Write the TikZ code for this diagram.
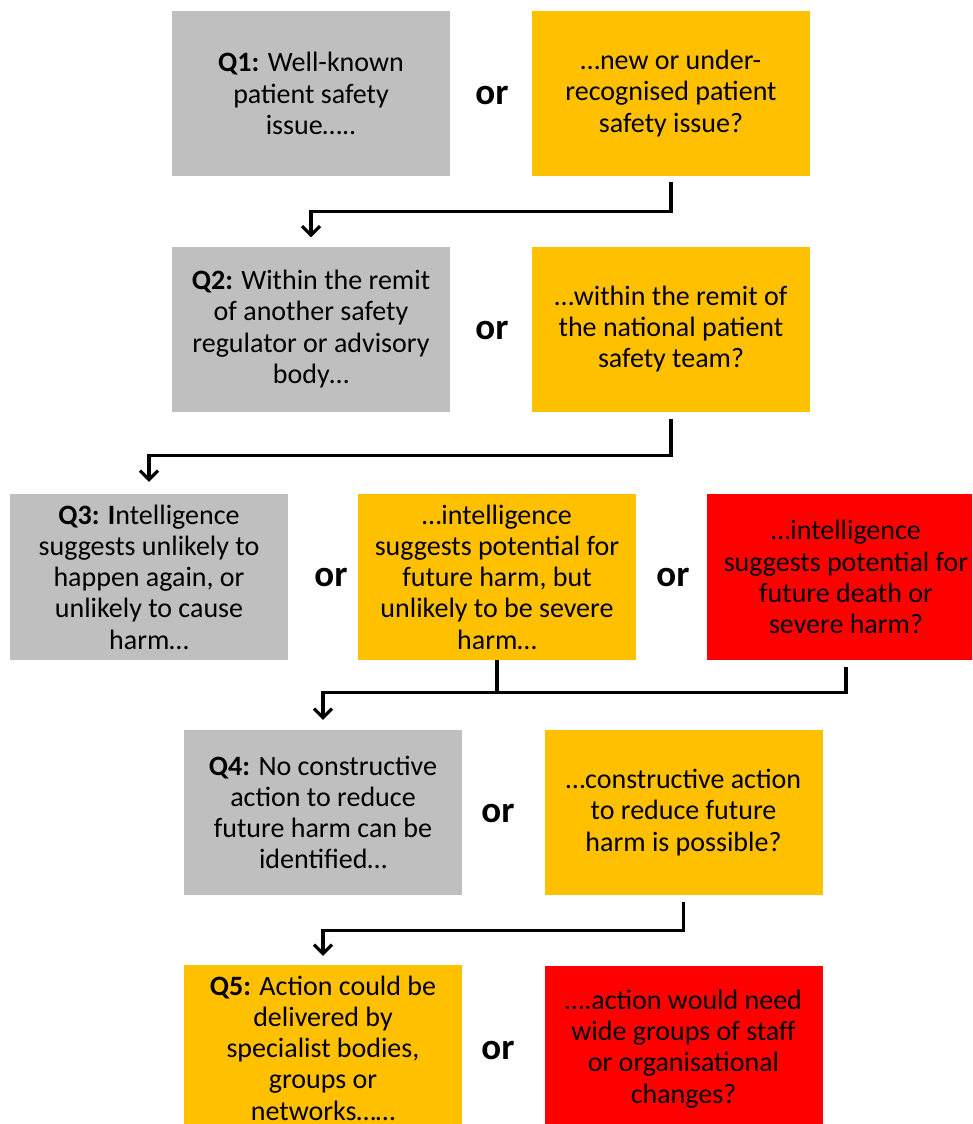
\documentclass[tikz,border=0pt]{standalone}
\usepackage{fontspec}
\setmainfont{Carlito}
\usetikzlibrary{arrows.meta}

\tikzset{
  box/.style={minimum width=278pt, minimum height=165pt, inner sep=0pt,
    align=center, font=\fontsize{28}{31.2}\selectfont},
  orlabel/.style={font=\fontsize{37}{40}\selectfont\bfseries},
  flow/.style={line width=3.2pt, -{Straight Barb[length=9pt,width=18pt]}}
}

\begin{document}
\begin{tikzpicture}[x=1pt, y=-1pt]
  \definecolor{known}{RGB}{191,191,191}
  \definecolor{medium}{RGB}{255,192,0}
  \definecolor{severe}{RGB}{255,0,0}

  \clip (0,0) rectangle (972,1124);

  % Draw the boxes first

  \node[box, fill=known] (g1) at (311,93.5)
    {\textbf{Q1:} Well-known\\patient safety\\issue…..};
  \node[box, fill=medium] (o1) at (671,93.5)
    {…new or under-\\recognised patient\\safety issue?};

  \node[box, fill=known] (g2) at (311,329)
    {\textbf{Q2:} Within the remit\\of another safety\\regulator or advisory\\body…};
  \node[box, fill=medium] (o2) at (671,329)
    {…within the remit of\\the national patient\\safety team?};

  \node[box, fill=known, minimum height=166pt] (g3) at (149,577)
    {\textbf{Q3: I}ntelligence\\suggests unlikely to\\happen again, or\\unlikely to cause\\harm…};
  \node[box, fill=medium, minimum height=166pt] (o3) at (497,577)
    {…intelligence\\suggests potential for\\future harm, but\\unlikely to be severe\\harm…};
  \node[box, fill=severe, minimum height=166pt] (r3) at (846,577)
    {…intelligence\\suggests potential for\\future death or\\severe harm?};

  \node[box, fill=known] (g4) at (323,812.5)
    {\textbf{Q4:} No constructive\\action to reduce\\future harm can be\\identified…};
  \node[box, fill=medium] (o4) at (683.5,812.5)
    {…constructive action\\to reduce future\\harm is possible?};

  \node[box, fill=medium, minimum height=166pt] (o5) at (323,1048)
    {\textbf{Q5:} Action could be\\delivered by\\specialist bodies,\\groups or\\networks……};
  \node[box, fill=severe, minimum height=166pt] (r5) at (683.5,1049)
    {….action would need\\wide groups of staff\\or organisational\\changes?};

  \foreach \x/\y [count=\i] in {492/95, 492/330, 331/577, 673/577, 498/813, 498/1050}{
    \node[orlabel] (or\i) at (\x,\y) {or};
  }

  % Then draw the arrows

  \draw[flow, shorten <=6pt, shorten >=9pt] (o1.south) -- ++(0,35) -| (g2.north);
  \draw[flow, shorten <=7pt, shorten >=12pt] (o2.south) -- ++(0,44) -| (g3.north);

  \draw[line width=3.2pt] (o3.south) -- ++(0,32) coordinate (merge);
  \draw[flow, shorten <=7pt, shorten >=10pt] (r3.south) |- (merge) -| (g4.north);

  \draw[flow, shorten <=7pt, shorten >=9pt] (o4.south) -- ++(0,35) -| (o5.north);
\end{tikzpicture}
\end{document}
